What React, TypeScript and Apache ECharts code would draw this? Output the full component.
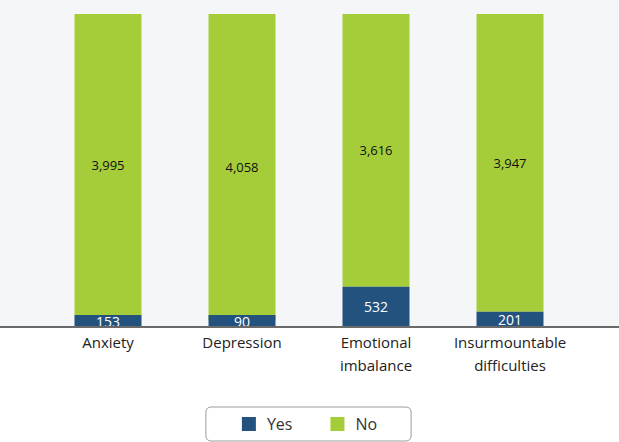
import React, { useEffect, useRef } from "react";
import * as echarts from "echarts";

const categories = ["Anxiety", "Depression", "Emotional\nimbalance", "Insurmountable\ndifficulties"];
const yesValues = [153, 90, 532, 201];
const noValues = [3995, 4058, 3616, 3947];
const seriesNames = ["Yes", "No"];

const FONT = "'Open Sans', 'Noto Sans', sans-serif";
const W = 619;
const H = 442;
const BASE_Y = 327;

export default function App() {
  const ref = useRef<HTMLDivElement>(null);

  useEffect(() => {
    if (!ref.current) return;
    const chart = echarts.init(ref.current, undefined, { renderer: "svg" });
    const total = Math.max(...yesValues.map((v, i) => v + noValues[i]));
    const fmt = (p: any) => Number(p.value).toLocaleString("en-US");

    chart.setOption({
      animation: false,
      backgroundColor: "#f5f6f8",
      textStyle: { fontFamily: FONT },
      graphic: [
        {
          type: "rect",
          z: -1,
          silent: true,
          shape: { x: 0, y: BASE_Y, width: W, height: H - BASE_Y },
          style: { fill: "#ffffff" },
        },
        {
          type: "line",
          z: 10,
          silent: true,
          shape: { x1: 0, y1: BASE_Y, x2: W, y2: BASE_Y },
          style: { stroke: "#6a6a6a", lineWidth: 2 },
        },
      ],
      grid: { left: 41, right: 42, top: 14, bottom: H - BASE_Y },
      legend: {
        bottom: 1,
        left: "center",
        data: seriesNames,
        icon: "rect",
        itemWidth: 14,
        itemHeight: 14,
        itemGap: 38,
        padding: [9, 34, 9, 36],
        borderColor: "#9a9a9a",
        borderWidth: 1,
        borderRadius: 5,
        backgroundColor: "#ffffff",
        textStyle: { fontSize: 16, color: "#333", fontFamily: FONT, padding: [0, 2, 0, 6] },
      },
      xAxis: {
        type: "category",
        data: categories,
        axisLine: { show: false },
        axisTick: { show: false },
        axisLabel: {
          fontSize: 15,
          color: "#222",
          lineHeight: 23,
          margin: 3,
          fontFamily: FONT,
          interval: 0,
        },
      },
      yAxis: {
        type: "value",
        min: 0,
        max: total,
        show: false,
        splitLine: { show: false },
      },
      series: [
        {
          name: seriesNames[0],
          type: "bar",
          stack: "total",
          data: yesValues,
          barWidth: "50%",
          barMinHeight: 12,
          z: 3,
          itemStyle: { color: "#23527f" },
          label: {
            show: true,
            position: "inside",
            color: "#ffffff",
            fontSize: 14,
            fontFamily: FONT,
            formatter: fmt,
          },
        },
        {
          name: seriesNames[1],
          type: "bar",
          stack: "total",
          data: noValues,
          barWidth: "50%",
          z: 2,
          itemStyle: { color: "#a5cd39" },
          label: {
            show: true,
            position: "inside",
            color: "#111111",
            fontSize: 13,
            fontFamily: FONT,
            formatter: fmt,
          },
        },
      ],
    });
    return () => chart.dispose();
  }, []);

  return (
    <div
      ref={ref}
      style={{ position: "fixed", left: 0, top: 0, width: W, height: H }}
    />
  );
}
